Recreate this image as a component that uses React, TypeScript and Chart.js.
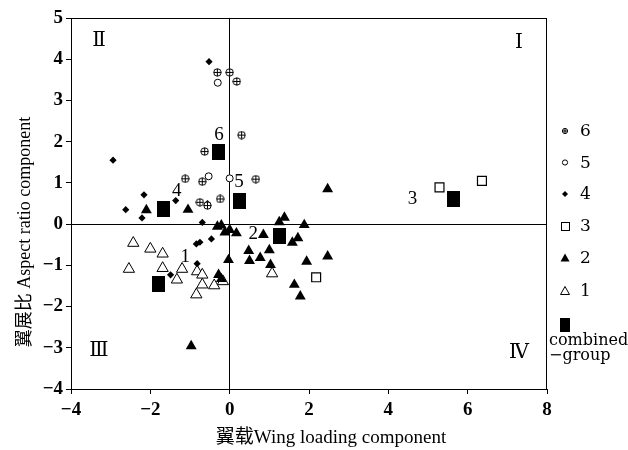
import { useEffect, useRef } from "react";
import { Chart, registerables } from "chart.js";
Chart.register(...registerables);

// ---------- data ----------
const xMin = -4;
const xMax = 8;
const xStep = 2;
const yMin = -4;
const yMax = 5;
const yStep = 1;

const group6X = [-0.31, 0.0, 0.18, 0.3, -0.63, -1.12, -0.69, 0.66, -0.75, -0.56, -0.24];
const group6Y = [3.68, 3.68, 3.46, 2.16, 1.76, 1.1, 1.03, 1.09, 0.53, 0.45, 0.61];

const group5X = [-0.3, -0.53, 0.0];
const group5Y = [3.43, 1.16, 1.11];

const group4X = [-0.52, -2.94, -2.16, -2.62, -2.21, -1.36, -0.56, -0.69, -0.84, -0.75, -0.46, -0.82, -1.49];
const group4Y = [3.94, 1.55, 0.71, 0.35, 0.15, 0.57, 0.5, 0.04, -0.48, -0.44, -0.36, -0.96, -1.23];

const group3X = [5.29, 6.36, 2.18];
const group3Y = [0.89, 1.05, -1.29];

const group2X = [-2.1, -1.05, -0.97, -0.31, -0.21, -0.12, 0.0, 0.17, -0.03, -0.28, -0.21, 0.85, 1.25, 1.38, 1.88, 1.72, 1.58, 0.48, 0.5, 0.77, 1.0, 1.03, 1.94, 2.47, 2.47, 1.63, 1.78];
const group2Y = [0.34, 0.35, -2.96, -0.06, -0.03, -0.2, -0.14, -0.22, -0.87, -1.23, -1.33, -0.26, 0.05, 0.16, -0.02, -0.34, -0.45, -0.65, -0.89, -0.82, -0.63, -0.99, -0.91, -0.78, 0.85, -1.47, -1.75];

const group1X = [-2.43, -2.0, -1.69, -2.54, -1.69, -1.2, -1.33, -0.82, -0.69, -0.69, -0.84, -0.39, -0.17, 1.07];
const group1Y = [-0.46, -0.6, -0.72, -1.09, -1.07, -1.09, -1.35, -1.15, -1.23, -1.47, -1.71, -1.49, -1.39, -1.2];

const combinedX = [-1.8, 1.25, 5.64, -1.66, 0.26, -0.27];
const combinedY = [-1.45, -0.3, 0.61, 0.36, 0.57, 1.74];
const combinedLabels = ["1", "2", "3", "4", "5", "6"];

const legendLabels = ["6", "5", "4", "3", "2", "1"];
const combinedLegendLines = ["combined", "\u2212group"];
const quadrantLabels = ["\u2160", "\u2161", "\u2162", "\u2163"];
const xTitle = "翼载Wing loading component";
const yTitle = "翼展比 Aspect ratio component";

// ---------- styles ----------
const SERIF = "'Liberation Serif', 'Times New Roman', 'Noto Sans CJK SC', serif";
const ROMAN = "'DejaVu Serif', 'Noto Sans CJK SC', serif";
const LEGEND_FONT = "'DejaVu Serif', 'Liberation Serif', serif";

// pixel offsets of the group number labels relative to their combined square
const labelOffsets: [number, number][] = [
  [27, -27],
  [-26, -2],
  [-41, 0],
  [13, -18],
  [-1, -19],
  [0, -17],
];

function makeCanvas(w: number, h: number, draw: (c: CanvasRenderingContext2D) => void) {
  const cv = document.createElement("canvas");
  cv.width = w;
  cv.height = h;
  const c = cv.getContext("2d")!;
  draw(c);
  return cv;
}

function crossCircle(d: number) {
  return makeCanvas(d, d, (c) => {
    const r = d / 2 - 0.8;
    c.beginPath();
    c.arc(d / 2, d / 2, r, 0, Math.PI * 2);
    c.fillStyle = "#fff";
    c.fill();
    c.lineWidth = 1;
    c.strokeStyle = "#000";
    c.stroke();
    c.beginPath();
    c.moveTo(d / 2, d / 2 - r);
    c.lineTo(d / 2, d / 2 + r);
    c.moveTo(d / 2 - r, d / 2);
    c.lineTo(d / 2 + r, d / 2);
    c.stroke();
  });
}

function filledRect(w: number, h: number) {
  return makeCanvas(w, h, (c) => {
    c.fillStyle = "#000";
    c.fillRect(0, 0, w, h);
  });
}

function pts(xs: number[], ys: number[]) {
  return xs.map((x, i) => ({ x, y: ys[i] }));
}

function fmt(v: number) {
  return v < 0 ? "\u2212" + Math.abs(v) : String(v);
}

export default function App() {
  const ref = useRef<HTMLCanvasElement>(null);

  useEffect(() => {
    if (!ref.current) return;
    document.body.style.margin = "0";

    const crossPt = crossCircle(9);
    const bigSquare = filledRect(13, 16);

    const overlay = {
      id: "overlay",
      afterDraw(chart: any) {
        const { ctx, chartArea: a, scales } = chart;
        const xs = scales.x;
        const ys = scales.y;
        ctx.save();
        // frame
        ctx.strokeStyle = "#000";
        ctx.lineWidth = 1;
        ctx.strokeRect(a.left + 0.5, a.top + 0.5, a.right - a.left - 1, a.bottom - a.top);

        ctx.fillStyle = "#000";
        // quadrant labels
        ctx.font = `20px ${ROMAN}`;
        ctx.textAlign = "center";
        ctx.textBaseline = "middle";
        ctx.fillText(quadrantLabels[0], a.right - 28, a.top + 25);
        ctx.fillText(quadrantLabels[1], a.left + 28, a.top + 23);
        ctx.fillText(quadrantLabels[2], a.left + 28, ys.getPixelForValue(-3) + 3);
        ctx.fillText(quadrantLabels[3], a.right - 28, ys.getPixelForValue(-3) + 5);

        // group labels
        ctx.font = `19px ${SERIF}`;
        combinedLabels.forEach((lab, i) => {
          const px = xs.getPixelForValue(combinedX[i]) + labelOffsets[i][0];
          const py = ys.getPixelForValue(combinedY[i]) + labelOffsets[i][1];
          ctx.fillText(lab, px, py);
        });

        // axis titles
        ctx.font = `19px ${SERIF}`;
        ctx.fillText(xTitle, 331, 438);
        ctx.save();
        ctx.translate(25, 232);
        ctx.rotate(-Math.PI / 2);
        ctx.font = `18px ${SERIF}`;
        ctx.fillText(yTitle, 0, 0);
        ctx.restore();

        // legend
        const lx = 565;
        const rows = [131, 162.5, 194, 226, 258, 291];
        const drawMarker = (k: number, x: number, y: number) => {
          ctx.lineWidth = 1;
          ctx.strokeStyle = "#000";
          if (k === 0) {
            ctx.beginPath();
            ctx.arc(x, y, 2.6, 0, Math.PI * 2);
            ctx.fillStyle = "#fff";
            ctx.fill();
            ctx.stroke();
            ctx.beginPath();
            ctx.moveTo(x - 2.6, y);
            ctx.lineTo(x + 2.6, y);
            ctx.moveTo(x, y - 2.6);
            ctx.lineTo(x, y + 2.6);
            ctx.stroke();
          } else if (k === 1) {
            ctx.beginPath();
            ctx.arc(x, y, 2.6, 0, Math.PI * 2);
            ctx.fillStyle = "#fff";
            ctx.fill();
            ctx.stroke();
          } else if (k === 2) {
            ctx.beginPath();
            ctx.moveTo(x, y - 3);
            ctx.lineTo(x + 3, y);
            ctx.lineTo(x, y + 3);
            ctx.lineTo(x - 3, y);
            ctx.closePath();
            ctx.fillStyle = "#000";
            ctx.fill();
          } else if (k === 3) {
            ctx.fillStyle = "#fff";
            ctx.fillRect(x - 4, y - 4, 8, 8);
            ctx.strokeRect(x - 3.5, y - 3.5, 8, 8);
          } else {
            ctx.beginPath();
            ctx.moveTo(x, y - 4.5);
            ctx.lineTo(x + 4.5, y + 3.5);
            ctx.lineTo(x - 4.5, y + 3.5);
            ctx.closePath();
            if (k === 4) {
              ctx.fillStyle = "#000";
              ctx.fill();
            } else {
              ctx.fillStyle = "#fff";
              ctx.fill();
              ctx.stroke();
            }
          }
        };
        ctx.font = `17px ${LEGEND_FONT}`;
        legendLabels.forEach((lab, k) => {
          drawMarker(k, lx, rows[k]);
          ctx.fillStyle = "#000";
          ctx.textAlign = "left";
          ctx.textBaseline = "middle";
          ctx.fillText(lab, 580, rows[k] + 1);
        });
        ctx.fillStyle = "#000";
        ctx.fillRect(lx - 5, 318, 10, 14);
        ctx.font = `16px ${LEGEND_FONT}`;
        ctx.textAlign = "left";
        ctx.textBaseline = "alphabetic";
        ctx.fillText(combinedLegendLines[0], 549, 345);
        ctx.fillText(combinedLegendLines[1], 549, 360);
        ctx.restore();
      },
    };

    const chart = new Chart(ref.current, {
      type: "scatter",
      data: {
        datasets: [
          {
            label: "combined-group",
            data: pts(combinedX, combinedY),
            pointStyle: bigSquare as any,
          },
          {
            label: "6",
            data: pts(group6X, group6Y),
            pointStyle: crossPt as any,
          },
          {
            label: "5",
            data: pts(group5X, group5Y),
            pointStyle: "circle",
            radius: 3.5,
            backgroundColor: "#fff",
            borderColor: "#000",
            borderWidth: 1,
          },
          {
            label: "4",
            data: pts(group4X, group4Y),
            pointStyle: "rectRot",
            radius: 3.6,
            backgroundColor: "#000",
            borderColor: "#000",
            borderWidth: 0,
          },
          {
            label: "3",
            data: pts(group3X, group3Y),
            pointStyle: "rect",
            radius: 6.3,
            backgroundColor: "#fff",
            borderColor: "#000",
            borderWidth: 1.2,
          },
          {
            label: "2",
            data: pts(group2X, group2Y),
            pointStyle: "triangle",
            radius: 6.3,
            backgroundColor: "#000",
            borderColor: "#000",
            borderWidth: 0,
          },
          {
            label: "1",
            data: pts(group1X, group1Y),
            pointStyle: "triangle",
            radius: 6.5,
            backgroundColor: "#fff",
            borderColor: "#000",
            borderWidth: 1,
          },
        ],
      },
      options: {
        responsive: false,
        animation: false,
        events: [],
        layout: { padding: { top: 18, right: 81, left: 0, bottom: 0 } },
        plugins: { legend: { display: false }, tooltip: { enabled: false } },
        scales: {
          x: {
            type: "linear",
            min: xMin,
            max: xMax,
            afterFit: (s: any) => {
              s.height = 61;
            },
            ticks: {
              stepSize: xStep,
              color: "#000",
              padding: 5,
              font: { family: SERIF, size: 19, weight: "bold" },
              callback: (v: any) => fmt(Number(v)),
            },
            grid: {
              color: (c: any) => (c.tick && c.tick.value === 0 ? "#000" : "rgba(0,0,0,0)"),
              lineWidth: 1,
              tickColor: "#000",
              tickLength: 5,
            },
            border: { display: true, color: "#000", width: 1 },
          },
          y: {
            type: "linear",
            min: yMin,
            max: yMax,
            afterFit: (s: any) => {
              s.width = 71;
            },
            ticks: {
              stepSize: yStep,
              color: "#000",
              padding: 3,
              font: { family: SERIF, size: 19, weight: "bold" },
              callback: (v: any) => fmt(Number(v)),
            },
            grid: {
              color: (c: any) => (c.tick && c.tick.value === 0 ? "#000" : "rgba(0,0,0,0)"),
              lineWidth: 1,
              tickColor: "#000",
              tickLength: 5,
            },
            border: { display: true, color: "#000", width: 1 },
          },
        },
      },
      plugins: [overlay],
    });
    return () => chart.destroy();
  }, []);

  return (
    <div style={{ position: "absolute", left: 0, top: 0, width: 628, height: 450, background: "#fff" }}>
      <canvas ref={ref} width={628} height={450} style={{ width: 628, height: 450, display: "block" }} />
    </div>
  );
}
